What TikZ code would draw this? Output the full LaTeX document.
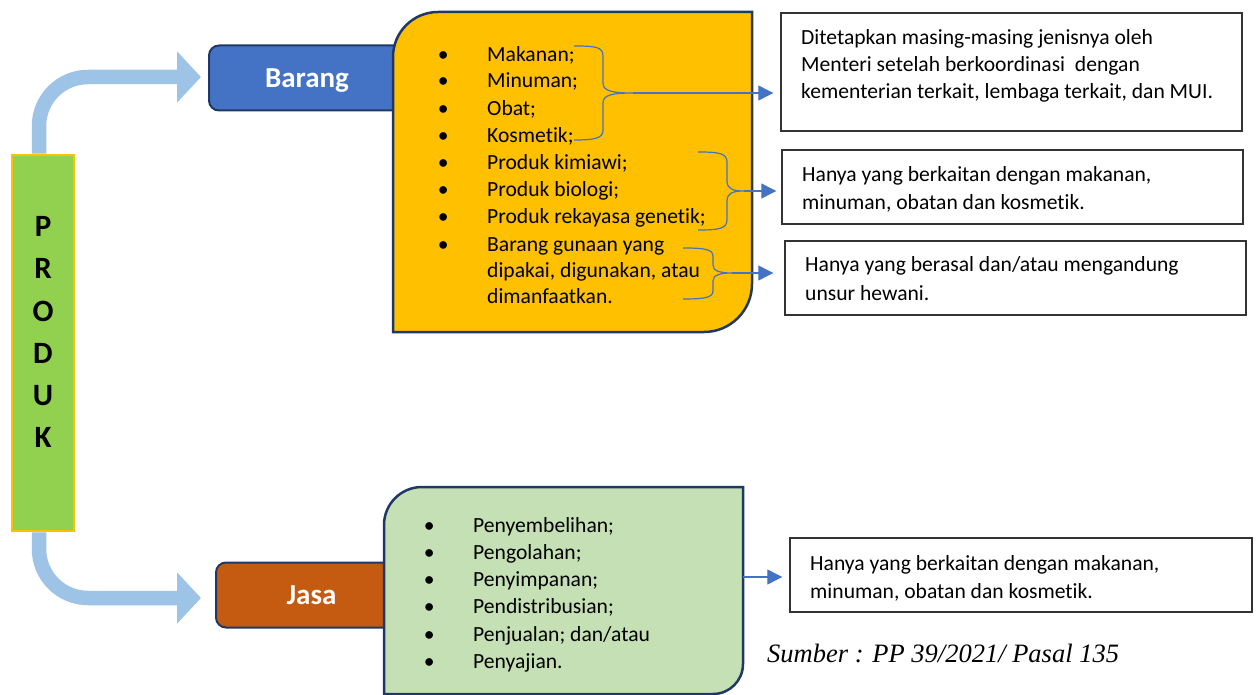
\documentclass[tikz,border=0pt]{standalone}
\usepackage{fontspec}
\setmainfont[Ligatures=NoCommon]{Carlito}
\newfontfamily\srcfont{Liberation Serif}
\usetikzlibrary{arrows.meta}
\pgfdeclarelayer{bg}
\pgfsetlayers{bg,main}
\definecolor{lblue}{HTML}{9DC3E6}
\definecolor{pgreen}{HTML}{92D050}
\definecolor{gold}{HTML}{FFC000}
\definecolor{bblue}{HTML}{4472C4}
\definecolor{navy}{HTML}{1F3864}
\definecolor{rust}{HTML}{C55A11}
\definecolor{lgreen}{HTML}{C5E0B4}
\newcommand\bitem[1]{\makebox[24pt]{•}\hspace*{32pt}#1}
\newcommand\bcont[1]{\hspace*{56pt}#1}
\begin{document}
\begin{tikzpicture}[x=1pt,y=-1pt,
  txt/.style={anchor=base west, inner sep=0pt, font=\fontsize{21.6}{25}\selectfont, text=black},
  bigarr/.style={draw=lblue, line width=14.5pt, rounded corners=49pt, -{Triangle[length=24pt,width=50pt]}},
  headbox/.style={draw=navy, line width=2pt, rounded corners=10pt, minimum height=65pt, text=white, text height=18.6pt, text depth=0pt, font=\fontsize{29}{33}\selectfont\bfseries},
  notebox/.style={draw=black!80, line width=1.4pt, inner sep=0pt},
  brc/.style={draw=bblue, line width=1.2pt},
  conn/.style={draw=bblue, line width=1.2pt, -{Triangle[length=15pt,width=15pt]}},
]
\useasboundingbox (0,0) rectangle (1256,695);

% PRODUK, Barang, Jasa
\node[draw=gold, fill=pgreen, line width=2.5pt, minimum width=62pt, minimum height=376pt, inner sep=0pt] (produk) at (43,343) {};
\node[headbox, fill=bblue, minimum width=196pt] (barang) at (307,78) {Barang};
\node[headbox, fill=rust, minimum width=191pt] (jasa) at (311.5,595) {Jasa};

% big arrows behind the boxes
\begin{pgfonlayer}{bg}
\draw[bigarr, shorten >=7pt] ([xshift=-4pt]produk.north) |- ([yshift=1pt]barang.west);
\draw[bigarr, shorten >=14pt] ([xshift=-4pt]produk.south) |- ([yshift=-3pt]jasa.west);
\end{pgfonlayer}
\foreach \ch/\yy [count=\i] in {P/237,R/279,O/321,D/363,U/405,K/447}
  \node[anchor=base, inner sep=0pt, font=\fontsize{31}{35}\selectfont\bfseries] (pl\i) at (43,\yy) {\ch};

% yellow box
\draw[draw=navy, fill=gold, line width=2.5pt]
  (393,332) -- (393,57) .. controls (393,32.1) and (413.1,12) .. (438,12)
  -- (752,12) -- (752,284) .. controls (752,310.5) and (730.5,332) .. (704,332) -- cycle;
\foreach \yy/\tx [count=\i] in {62/{\bitem{Makanan;}}, 88/{\bitem{Minuman;}}, 116/{\bitem{Obat;}},
  143/{\bitem{Kosmetik;}}, 170/{\bitem{Produk kimiawi;}}, 197/{\bitem{Produk biologi;}},
  224/{\bitem{Produk rekayasa genetik;}}, 252/{\bitem{Barang gunaan yang}},
  277/{\bcont{dipakai, digunakan, atau}}, 303/{\bcont{dimanfaatkan.}}}
  \node[txt] (y\i) at (431,\yy) {\tx};

% green box
\draw[draw=navy, fill=lgreen, line width=2.5pt]
  (384,694) -- (384,525) .. controls (384,504) and (401,487) .. (422,487)
  -- (743,487) -- (743,664) .. controls (743,680.6) and (729.6,694) .. (713,694) -- cycle;
\foreach \yy/\tx [count=\i] in {532/{\bitem{Penyembelihan;}}, 559/{\bitem{Pengolahan;}},
  586/{\bitem{Penyimpanan;}}, 613/{\bitem{Pendistribusian;}}, 641/{\bitem{Penjualan; dan/atau}},
  668/{\bitem{Penyajian.}}}
  \node[txt] (g\i) at (417,\yy) {\tx};

% note boxes
\node[notebox, minimum width=461pt, minimum height=118pt] (box1) at (1011.5,72) {};
\node[notebox, minimum width=461pt, minimum height=74pt] (box2) at (1012.5,187) {};
\node[notebox, minimum width=461pt, minimum height=74pt] (box3) at (1015.5,278) {};
\node[notebox, minimum width=462pt, minimum height=74pt] (box4) at (1021,575) {};
\foreach \yy/\tx [count=\i] in {44.5/{Ditetapkan masing-masing jenisnya oleh}, 72/{Menteri setelah berkoordinasi\ \ dengan}, 99/{kementerian terkait, lembaga terkait, dan MUI.}}
  \node[txt] (t1\i) at (801,\yy) {\tx};
\foreach \yy/\tx [count=\i] in {182/{Hanya yang berkaitan dengan makanan,}, 210/{minuman, obatan dan kosmetik.}}
  \node[txt] (t2\i) at (802,\yy) {\tx};
\foreach \yy/\tx [count=\i] in {272/{Hanya yang berasal dan/atau mengandung}, 300/{unsur hewani.}}
  \node[txt] (t3\i) at (805,\yy) {\tx};
\foreach \yy/\tx [count=\i] in {570/{Hanya yang berkaitan dengan makanan,}, 598/{minuman, obatan dan kosmetik.}}
  \node[txt] (t4\i) at (810,\yy) {\tx};

% braces
\coordinate (b1) at (633,93);
\coordinate (b2) at (744,191);
\coordinate (b3) at (732,273);
\coordinate (g0) at (743,577);
\draw[brc] (574,46) .. controls (596,46) and (603,47) .. (603,56) -- (603,83)
  .. controls (603,91) and (612,93) .. (b1)
  .. controls (612,93) and (603,95) .. (603,103) -- (603,130)
  .. controls (603,138) and (596,140) .. (574,140);
\draw[brc] (698,152) .. controls (718,152) and (727,153) .. (727,162) -- (727,181)
  .. controls (727,189) and (733,191) .. (b2)
  .. controls (733,191) and (727,193) .. (727,201) -- (727,220)
  .. controls (727,229) and (718,230) .. (698,230);
\draw[brc] (683,248) .. controls (703,248) and (713,249) .. (713,256) -- (713,265)
  .. controls (713,271) and (720,273) .. (b3)
  .. controls (720,273) and (713,275) .. (713,281) -- (713,291)
  .. controls (713,298) and (703,299) .. (683,299);

% connectors
\draw[conn, shorten >=7pt] (b1) -- (box1.west |- b1);
\draw[conn, shorten >=5pt] (b2) -- (box2.west |- b2);
\draw[conn, shorten >=11pt] (b3) -- (box3.west |- b3);
\draw[conn, shorten >=7pt] (g0) -- (box4.west |- g0);

% source
\node[anchor=base west, inner sep=0pt, font=\srcfont\itshape\fontsize{26.5}{30}\selectfont] (src) at (767,662) {Sumber : PP 39/2021/ Pasal 135};
\end{tikzpicture}
\end{document}
